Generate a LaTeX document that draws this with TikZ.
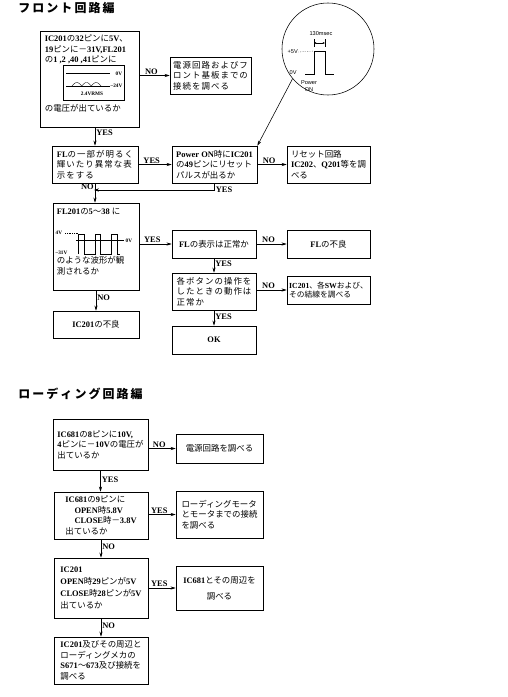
\documentclass[tikz,border=0pt]{standalone}
\usepackage{fontspec}
\setmainfont{Liberation Serif}
\setsansfont{Liberation Sans}
\newfontfamily\jpfont{Noto Sans CJK JP}
% switch to the Japanese font between kana/kanji automatically
\newXeTeXintercharclass\cjkcls
\newcount\cjkc
\def\setcjk#1#2{\cjkc=#1 \loop\XeTeXcharclass\cjkc=\cjkcls \ifnum\cjkc<#2 \advance\cjkc by 1 \repeat}
\setcjk{"3000}{"30FF}
\setcjk{"4E00}{"9FFF}
\setcjk{"FF00}{"FFEF}
\def\cjkon{\jpfont\mdseries}
\def\cjkoff{\rmfamily\bfseries}
\def\cjkgap{}
\XeTeXinterchartoks 0 \cjkcls = {\cjkon}
\XeTeXinterchartoks 4095 \cjkcls = {\cjkon}
\XeTeXinterchartoks \cjkcls 0 = {\cjkoff}
\XeTeXinterchartoks \cjkcls 4095 = {\cjkoff}
\XeTeXinterchartoks \cjkcls \cjkcls = {\cjkgap}
\XeTeXinterchartokenstate=1
\usetikzlibrary{arrows.meta}
\usetikzlibrary{positioning}
\tikzset{
    box/.style={
           rectangle,
           draw=black, line width=1.2pt,
           inner sep=2pt,
           align=left,
           },
    sz/.style 2 args={minimum width=#1*0.05cm, minimum height=#2*0.05cm},
    wide/.style={execute at begin node=\def\cjkgap{\hskip1.5pt\relax}},
    narrow/.style={font=\fontsize{11}{14}\selectfont\bfseries},
    lbl/.style={inner sep=1.5pt},
    wv/.style={font=\fontsize{7.5}{8}\selectfont\bfseries, inner sep=0.5pt},
    cl/.style={font=\fontsize{8}{10}\selectfont\sffamily\mdseries, inner sep=0.5pt},
    head/.style={anchor=west, inner sep=0pt,
           font={\fontsize{17}{17}\selectfont\def\cjkon{\jpfont\bfseries}\def\cjkgap{\hskip3pt\relax}}},
}

\begin{document}
\begin{tikzpicture}[x=0.05cm,y=-0.05cm,>={Stealth[length=7pt,width=4.5pt]},line width=0.8pt,
    font=\fontsize{12}{15}\selectfont\bfseries]
	\useasboundingbox (0,0) rectangle (508,697);

	\node[head] (fronthead) at (18,8) {フロント回路編};
	\node[head] (loadhead)  at (18,394) {ローディング回路編};

	% front panel
	\node[box,sz={99}{96}] (volt) at (89.5,79) {};
	\node[anchor=north west,inner sep=0pt,align=left] (volttxt) at ([shift={(5,4)}]volt.north west)
		{IC201の32ピンに5V、\\19ピンに－31V,FL201\\の1 ,2 ,40 ,41ピンに\\[55pt]の電圧が出ているか};
	\draw[line width=0.6pt] (63,65) rectangle (124,100);
	\draw[line width=0.5pt] (66,73) -- (110,73);
	\draw[line width=0.5pt] (66,86) -- (110,86);
	\draw[line width=0.5pt] plot[domain=72:101,samples=61,smooth] (\x,{86-3.5*abs(sin((\x-72)*18.62))});
	\node[wv,anchor=west] (zerov) at (115,74) {0V};
	\node[wv,anchor=west] (lowv) at (110,86) {--24V};
	\node[wv] (rms) at (92,94) {2.4VRMS};

	\node[box,sz={81}{37},wide] (psu) at (210.5,75.5) {電源回路およびフ\\ロント基板までの\\接続を調べる};

	\node[draw,circle,minimum size=92*0.05cm] (pulse) at (328,49) {};
	\node[cl] (tlen) at (321,34) {130msec};
	\draw[line width=0.5pt] (314,39) -- (314,47) (325,39) -- (325,47);
	\draw[<->,>={Latex[length=3pt,width=3pt]},line width=0.5pt] (314,43) -- (325,43);
	\node[cl,anchor=west] (vhi) at (287,52) {+5V};
	\draw[dotted,line width=0.5pt] (vhi.east) -- (314,51);
	\node[cl,anchor=west] (vlo) at (289,73) {0V};
	\draw[line width=0.6pt] (305,74) -- (314,74) -- (314,51) -- (325,51) -- (325,74) -- (334,74);
	\node[cl,align=center] (pwr) at (309,86) {Power\\ON};

	\node[box,sz={86}{37},wide] (fldisp) at (95,164.5) {FLの一部が明るく\\輝いたり異常な表\\示をする};
	\node[box,sz={85}{37}] (pon) at (214.5,164.5) {Power ON時にIC201\\の49ピンにリセット\\パルスが出るか};
	\node[box,sz={83}{37}] (rstchk) at (328.5,164.5) {リセット回路\\IC202、Q201等を調\\べる};
	\coordinate (jn) at (94,190);

	\node[box,sz={86}{87}] (flwave) at (96,246.5) {};
	\node[anchor=north west,inner sep=0pt,align=left] (flwavetxt) at ([shift={(4,5)}]flwave.north west)
		{FL201の5～38 に\\[55pt]のような波形が観\\測されるか};
	\draw[dotted,line width=0.5pt] (65,233) -- (78,233);
	\node[wv,anchor=west] (fhi) at (55,233) {4V};
	\draw[line width=0.5pt] (76,240) -- (124,240);
	\node[wv,anchor=west] (fzero) at (125,241) {0V};
	\node[wv,anchor=west] (flow) at (55,253) {--31V};
	\draw[line width=0.6pt] (78,254) -- (78,234) -- (84,234) -- (84,254) -- (95,254) -- (95,234) -- (100,234)
		-- (100,254) -- (111,254) -- (111,234) -- (117,234) -- (117,254) -- (120,254);

	\node[box,sz={84}{28},align=center] (flok) at (214,244) {FLの表示は正常か};
	\node[box,sz={83}{28},align=center] (flbad) at (328.5,244) {FLの不良};
	\node[box,sz={84}{37},wide] (keys) at (214,291.5) {各ボタンの操作を\\したときの動作は\\正常か};
	\node[box,sz={83}{28},narrow] (swchk) at (328.5,290) {IC201、各SWおよび、\\その結線を調べる};
	\node[box,sz={84}{28},align=center] (ok) at (214,340) {OK};
	\node[box,sz={86}{27},align=center] (icbad) at (96,324.5) {IC201の不良};

	\path[->] (volt.east |- psu.west) edge node[lbl,above,pos=.4] {NO} (psu.west);
	\path[->] (fldisp.north |- volt.south) edge node[lbl,right,pos=.3] {YES} (fldisp.north);
	\path[->] (pulse.220) edge (pon.north east);
	\path[->] (fldisp) edge node[lbl,above,pos=.4] {YES} (pon);
	\path[->] (pon) edge node[lbl,above,pos=.4] {NO} (rstchk);
	\draw[->] (pon.south) |- node[lbl,right,pos=.5] {YES} (jn);
	\path[->] (fldisp.south) edge node[lbl,left,pos=.15] {NO} (fldisp.south |- flwave.north);
	\path[->] (flwave.east |- flok.west) edge node[lbl,above,pos=.4] {YES} (flok.west);
	\path[->] (flok) edge node[lbl,above,pos=.4] {NO} (flbad);
	\path[->] (flok) edge node[lbl,right,pos=.4] {YES} (keys);
	\path[->] (keys.east |- swchk.west) edge node[lbl,above,pos=.4] {NO} (swchk.west);
	\path[->] (keys) edge node[lbl,right,pos=.4] {YES} (ok);
	\path[->] (flwave.south) edge node[lbl,right,pos=.35] {NO} (flwave.south |- icbad.north);

	% loading
	\node[box,sz={95}{51}] (ldvolt) at (100.5,444.5) {IC681の8ピンに10V,\\4ピンに－10Vの電圧が\\出ているか};
	\node[box,sz={87}{29},align=center] (ldpsu) at (219.5,448.5) {電源回路を調べる};
	\node[box,sz={94}{47}] (ldpin) at (101,515.5)
		{IC681の9ピンに\\\hspace*{13pt}OPEN時5.8V\\\hspace*{13pt}CLOSE時－3.8V\\出ているか};
	\node[box,sz={87}{47}] (ldmotor) at (219.5,514.5) {ローディングモータ\\とモータまでの接続\\を調べる};
	\node[box,sz={94}{60}] (icout) at (101,588)
		{IC201\\[2pt]OPEN時29ピンが5V\\[2pt]CLOSE時28ピンが5V\\[2pt]出ているか};
	\node[box,sz={87}{44},align=center] (ldic) at (219.5,588) {IC681とその周辺を\\[8pt]調べる};
	\node[box,sz={94}{47}] (ldmech) at (101,660.5)
		{IC201及びその周辺と\\ローディングメカの\\S671～673及び接続を\\調べる};

	\path[->] (ldvolt.east |- ldpsu.west) edge node[lbl,above,pos=.4] {NO} (ldpsu.west);
	\path[->] (ldvolt.south) edge node[lbl,right,pos=.45] {YES} (ldvolt.south |- ldpin.north);
	\path[->] (ldpin.east |- ldmotor.west) edge node[lbl,above,pos=.4] {YES} (ldmotor.west);
	\path[->] (ldpin) edge node[lbl,right,pos=.4] {NO} (icout);
	\path[->] (icout) edge node[lbl,above,pos=.4] {YES} (ldic);
	\path[->] (icout) edge node[lbl,right,pos=.4] {NO} (ldmech);
\end{tikzpicture}
\end{document}
